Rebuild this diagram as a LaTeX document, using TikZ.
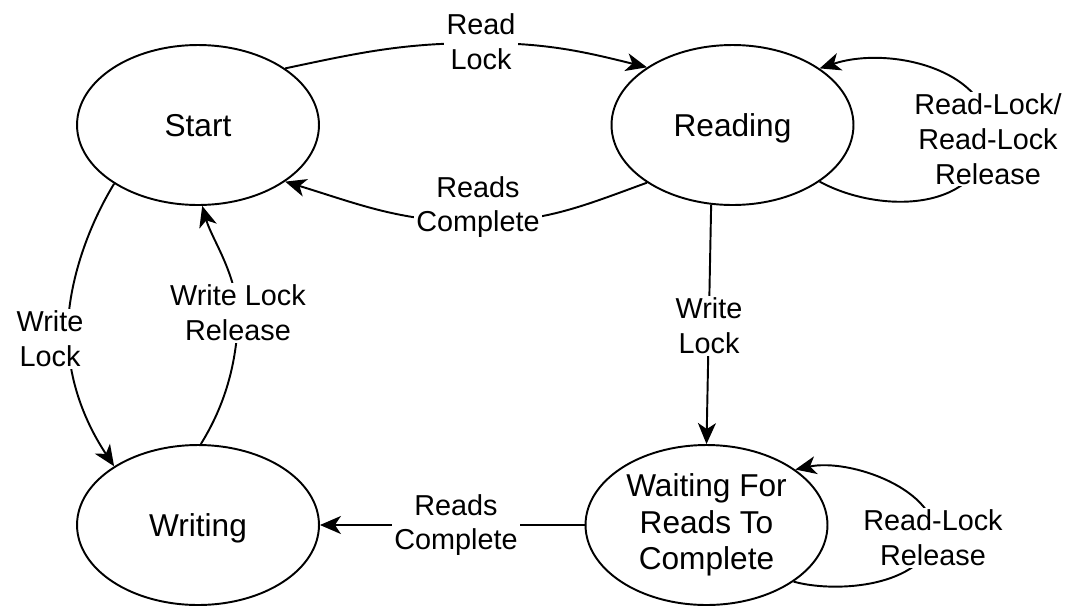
\documentclass[tikz,border=0pt]{standalone}
\usepackage{fontspec}
\setmainfont{Liberation Sans}
\usetikzlibrary{shapes.geometric,arrows.meta}
\begin{document}
\begin{tikzpicture}[x=0.02cm,y=0.02cm,
  state/.style={ellipse, draw, line width=1.1pt, minimum width=4.84cm,
    minimum height=3.2cm, inner sep=0pt, align=center,
    font=\fontsize{18}{20.7}\selectfont},
  oneline/.style={text height=17.6pt, text depth=4pt},
  lbl/.style={fill=white, inner sep=1.2pt, align=center,
    font=\fontsize{16.4}{19.8}\selectfont},
  link/.style={line width=1.1pt,
    -{Stealth[length=0.42cm,width=0.36cm,inset=0.12cm]}}]
\useasboundingbox (0,0) rectangle (1066,-606);

% states
\node[state,oneline] (start)   at (198,-125)   {Start};
\node[state,oneline] (reading) at (732.5,-125) {Reading};
\node[state,oneline] (writing) at (198,-525)   {Writing};
\node[state] (waiting) at (706.5,-525) {Waiting For\\Reads To\\Complete};

% transitions
\draw[link] (start.33) to[out=12,in=180] (481,-43) to[out=0,in=166] (reading.146);
\draw[link] (reading.214) to[out=200,in=0] (478,-222) to[out=180,in=-17] (start.-33);
\draw[link] (reading.-33) .. controls (875,-212) and (975,-215) .. (990,-141)
  .. controls (995,-70) and (890,-45) .. (reading.33);
\draw[link] (reading.255) -- (waiting.north);
\draw[link] (waiting.-33) .. controls (830,-592) and (915,-590) .. (935,-540)
  .. controls (940,-490) and (850,-458) .. (waiting.32);
\draw[link] (waiting.west) -- (writing.east);
\draw[link] (start.215) .. controls (80,-240) and (66,-300) .. (68,-340)
  .. controls (70,-390) and (90,-430) .. (writing.145);
\draw[link] (writing.88) .. controls (222,-410) and (236,-370) .. (238,-320)
  .. controls (238,-275) and (212,-240) .. (start.-87);

% transition labels
\node[lbl] (lReadLock)   at (481,-42)  {Read\\Lock};
\node[lbl] (lReadsDone)  at (478,-207) {Reads\\Complete};
\node[lbl] (lReadLoop)   at (988,-139) {Read-Lock/\\Read-Lock\\Release};
\node[lbl] (lWriteLockR) at (709,-326) {Write\\Lock};
\node[lbl] (lWaitLoop)   at (933,-538) {Read-Lock\\Release};
\node[lbl] (lReadsDoneW) at (456,-525) {Reads\\Complete};
\node[lbl] (lWriteLockL) at (50,-339)  {Write\\Lock};
\node[lbl] (lWriteRel)   at (238,-313) {Write Lock\\Release};
\end{tikzpicture}
\end{document}
